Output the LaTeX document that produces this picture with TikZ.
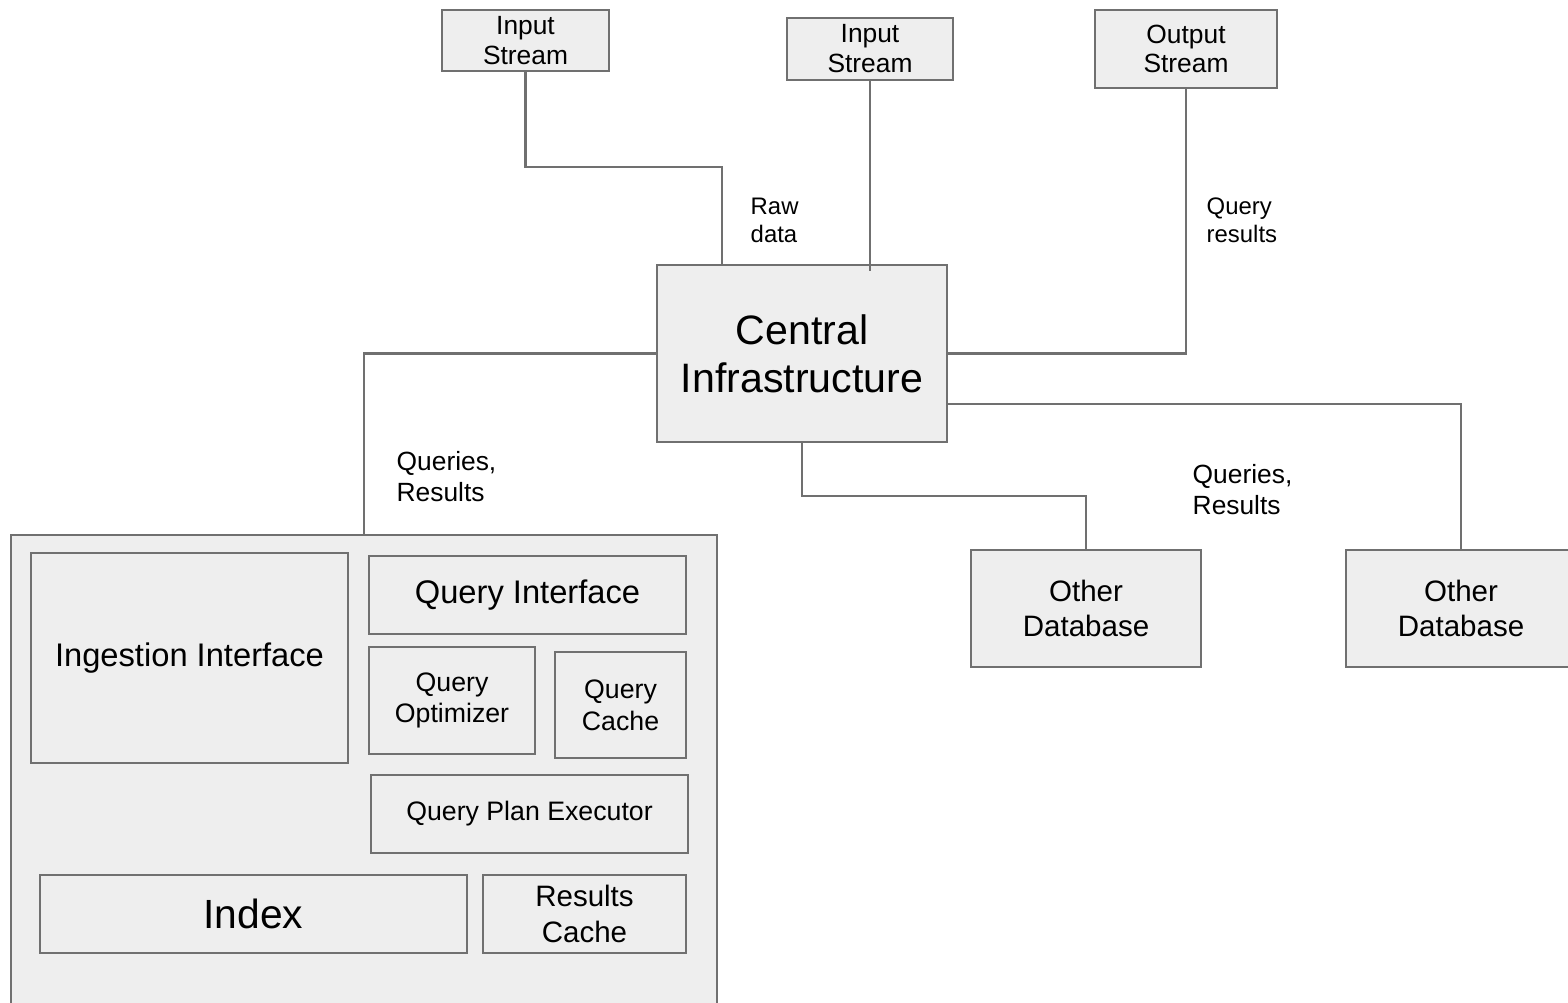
\documentclass[tikz,border=0pt]{standalone}
\usepackage{fontspec}
\setmainfont{Liberation Sans}
\usepackage{tikz}
\usetikzlibrary{positioning}

\definecolor{boxfill}{RGB}{238,238,238}
\definecolor{boxline}{RGB}{112,112,112}

\begin{document}
\begin{tikzpicture}[
	box/.style={draw=boxline, fill=boxfill, line width=0.6pt, inner sep=0pt, align=center},
	wire/.style={draw=boxline, line width=0.6pt},
	lbl/.style={align=left, inner sep=0pt, anchor=west}
]
	\useasboundingbox (0,0) rectangle (15.68,-10.03);

	% sources, sink and hub
	\node[box, minimum width=1.67cm, minimum height=0.61cm, font=\fontsize{7.5}{8.5}\selectfont] (in1) at (5.255,-0.405) {Input\\Stream};
	\node[box, minimum width=1.66cm, minimum height=0.62cm, font=\fontsize{7.5}{8.5}\selectfont] (in2) at (8.70,-0.49) {Input\\Stream};
	\node[box, minimum width=1.82cm, minimum height=0.78cm, font=\fontsize{7.5}{8.5}\selectfont] (out) at (11.86,-0.49) {Output\\Stream};
	\node[box, minimum width=2.90cm, minimum height=1.77cm, font=\fontsize{11.7}{13.7}\selectfont] (ci) at (8.02,-3.535) {Central\\Infrastructure};

	% our database
	\node[box, minimum width=7.06cm, minimum height=4.75cm] (db) at (3.64,-7.725) {};
	\node[box, minimum width=3.17cm, minimum height=2.10cm, font=\fontsize{9.3}{11}\selectfont] (ing) at (1.895,-6.58) {Ingestion Interface};
	\node[box, minimum width=3.17cm, minimum height=0.78cm, font=\fontsize{9.3}{11}\selectfont] (qi) at (5.275,-5.95) {Query Interface};
	\node[box, minimum width=1.66cm, minimum height=1.07cm, font=\fontsize{7.6}{9}\selectfont] (qo) at (4.52,-7.005) {Query\\Optimizer};
	\node[box, minimum width=1.31cm, minimum height=1.06cm, font=\fontsize{7.6}{9}\selectfont] (qc) at (6.205,-7.05) {Query\\Cache};
	\node[box, minimum width=3.17cm, minimum height=0.78cm, font=\fontsize{7.6}{9}\selectfont] (qpe) at (5.295,-8.14) {Query Plan Executor};
	\node[box, minimum width=4.27cm, minimum height=0.78cm, font=\fontsize{11.6}{13}\selectfont] (idx) at (2.535,-9.14) {Index};
	\node[box, minimum width=2.03cm, minimum height=0.78cm, font=\fontsize{8.4}{10}\selectfont] (rc) at (5.845,-9.14) {Results\\Cache};

	% other databases
	\node[box, minimum width=2.30cm, minimum height=1.17cm, font=\fontsize{8.4}{10}\selectfont] (od1) at (10.86,-6.085) {Other\\Database};
	\node[box, minimum width=2.30cm, minimum height=1.17cm, font=\fontsize{8.4}{10}\selectfont] (od2) at (14.61,-6.085) {Other\\Database};

	% connections
	\path[wire]
	(in1.south) -- ++(0,-0.95) -| ([xshift=-0.80cm]ci.north)
	(in2.south) -- ([yshift=-0.07cm]in2.south |- ci.north)
	(out.south) |- (ci.east)
	(ci.west) -| (db.north)
	(ci.south) -- ++(0,-0.53) -| (od1.north)
	([yshift=-0.505cm]ci.east) -| (od2.north);

	% labels
	\node[lbl, font=\fontsize{6.8}{8}\selectfont] (raw) at (7.50,-2.20) {Raw\\data};
	\node[lbl, font=\fontsize{6.8}{8}\selectfont] (qres) at (12.06,-2.20) {Query\\results};
	\node[lbl, font=\fontsize{7.5}{8.8}\selectfont] (qr1) at (3.96,-4.77) {Queries,\\Results};
	\node[lbl, font=\fontsize{7.5}{8.8}\selectfont] (qr2) at (11.92,-4.90) {Queries,\\Results};
\end{tikzpicture}
\end{document}
